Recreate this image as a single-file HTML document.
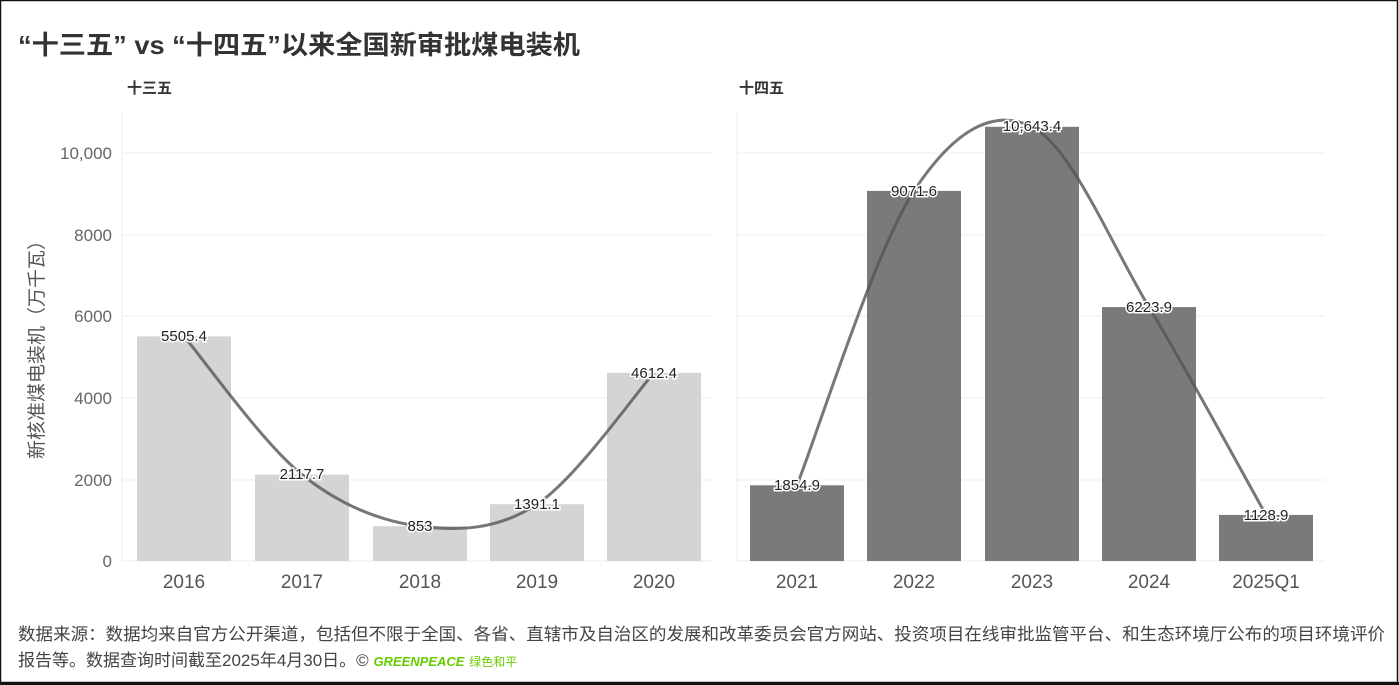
<!DOCTYPE html>
<html><head><meta charset="utf-8"><style>
body{margin:0;background:#fff}
svg{display:block;font-family:"Liberation Sans","Noto Sans CJK SC",sans-serif}
</style></head><body>
<svg width="1399" height="685" viewBox="0 0 1399 685">
<rect x="0.5" y="0.5" width="1397" height="682" fill="#fff" stroke="#111" stroke-width="1.5"/>
<rect x="0" y="682" width="1399" height="3" fill="#111"/>
<text x="18" y="54" font-size="26" font-weight="bold" fill="#333" textLength="562" lengthAdjust="spacingAndGlyphs">“十三五” vs “十四五”以来全国新审批煤电装机</text>
<text x="127" y="93" font-size="15" font-weight="bold" fill="#333">十三五</text>
<text x="739" y="93" font-size="15" font-weight="bold" fill="#333">十四五</text>
<g stroke="#ececec" stroke-width="1">
<line x1="122" y1="153" x2="712" y2="153"/><line x1="122" y1="235" x2="712" y2="235"/><line x1="122" y1="316" x2="712" y2="316"/><line x1="122" y1="398" x2="712" y2="398"/><line x1="122" y1="480" x2="712" y2="480"/>
<line x1="737" y1="153" x2="1325" y2="153"/><line x1="737" y1="235" x2="1325" y2="235"/><line x1="737" y1="316" x2="1325" y2="316"/><line x1="737" y1="398" x2="1325" y2="398"/><line x1="737" y1="480" x2="1325" y2="480"/>
<line x1="122" y1="112" x2="122" y2="561"/><line x1="737" y1="112" x2="737" y2="561"/>
<line x1="122" y1="561" x2="712" y2="561"/><line x1="737" y1="561" x2="1325" y2="561"/>
</g>
<g font-size="17" fill="#666" text-anchor="end">
<text x="112" y="159">10,000</text><text x="112" y="241">8000</text><text x="112" y="322">6000</text><text x="112" y="404">4000</text><text x="112" y="486">2000</text><text x="112" y="567">0</text>
</g>
<text transform="translate(43,345) rotate(-90)" font-size="19" fill="#555" text-anchor="middle">新核准煤电装机（万千瓦）</text>
<g fill="#d4d4d4">
<rect x="137" y="336.4" width="94" height="224.6"/><rect x="255" y="474.6" width="94" height="86.4"/><rect x="373" y="526.2" width="94" height="34.8"/><rect x="490" y="504.2" width="94" height="56.8"/><rect x="607" y="372.8" width="94" height="188.2"/>
</g>
<g fill="#7a7a7a">
<rect x="750" y="485.3" width="94" height="75.7"/><rect x="867" y="190.9" width="94" height="370.1"/><rect x="985" y="126.8" width="94" height="434.2"/><rect x="1102" y="307.1" width="94" height="253.9"/><rect x="1219" y="514.9" width="94" height="46.1"/>
</g>
<g fill="none" stroke="#555" stroke-opacity="0.8" stroke-width="3">
<path d="M184,336.4 C203.7,359.4 262.7,443 302,474.6 C341.3,506.2 380.8,521.2 420,526.2 C459.2,531.2 498,529.8 537,504.2 C576,478.6 634.5,394.7 654,372.8"/>
<path d="M797,485.3 C816.5,436.2 874.8,250.7 914,190.9 C953.2,131.2 992.8,107.4 1032,126.8 C1071.2,146.2 1110,242.4 1149,307.1 C1188,371.8 1246.5,480.3 1266,514.9"/>
</g>
<g font-size="15" fill="#222" text-anchor="middle" stroke="#fff" stroke-width="3" paint-order="stroke">
<text x="184" y="341">5505.4</text><text x="302" y="479">2117.7</text><text x="420" y="531">853</text><text x="537" y="509">1391.1</text><text x="654" y="378">4612.4</text>
<text x="797" y="490">1854.9</text><text x="914" y="196">9071.6</text><text x="1032" y="131">10,643.4</text><text x="1149" y="312">6223.9</text><text x="1266" y="520">1128.9</text>
</g>
<g font-size="19" fill="#555" text-anchor="middle">
<text x="184" y="588">2016</text><text x="302" y="588">2017</text><text x="420" y="588">2018</text><text x="537" y="588">2019</text><text x="654" y="588">2020</text>
<text x="797" y="588">2021</text><text x="914" y="588">2022</text><text x="1032" y="588">2023</text><text x="1149" y="588">2024</text><text x="1266" y="588">2025Q1</text>
</g>
<g font-size="17" fill="#444">
<text x="18" y="640" textLength="1367" lengthAdjust="spacingAndGlyphs">数据来源：数据均来自官方公开渠道，包括但不限于全国、各省、直辖市及自治区的发展和改革委员会官方网站、投资项目在线审批监管平台、和生态环境厅公布的项目环境评价</text>
<text x="18" y="666">报告等。数据查询时间截至2025年4月30日。© <tspan fill="#66cc00" font-style="italic" font-weight="bold" font-size="13">GREENPEACE</tspan> <tspan fill="#66cc00" font-size="12">绿色和平</tspan></text>
</g>
</svg>
</body></html>
